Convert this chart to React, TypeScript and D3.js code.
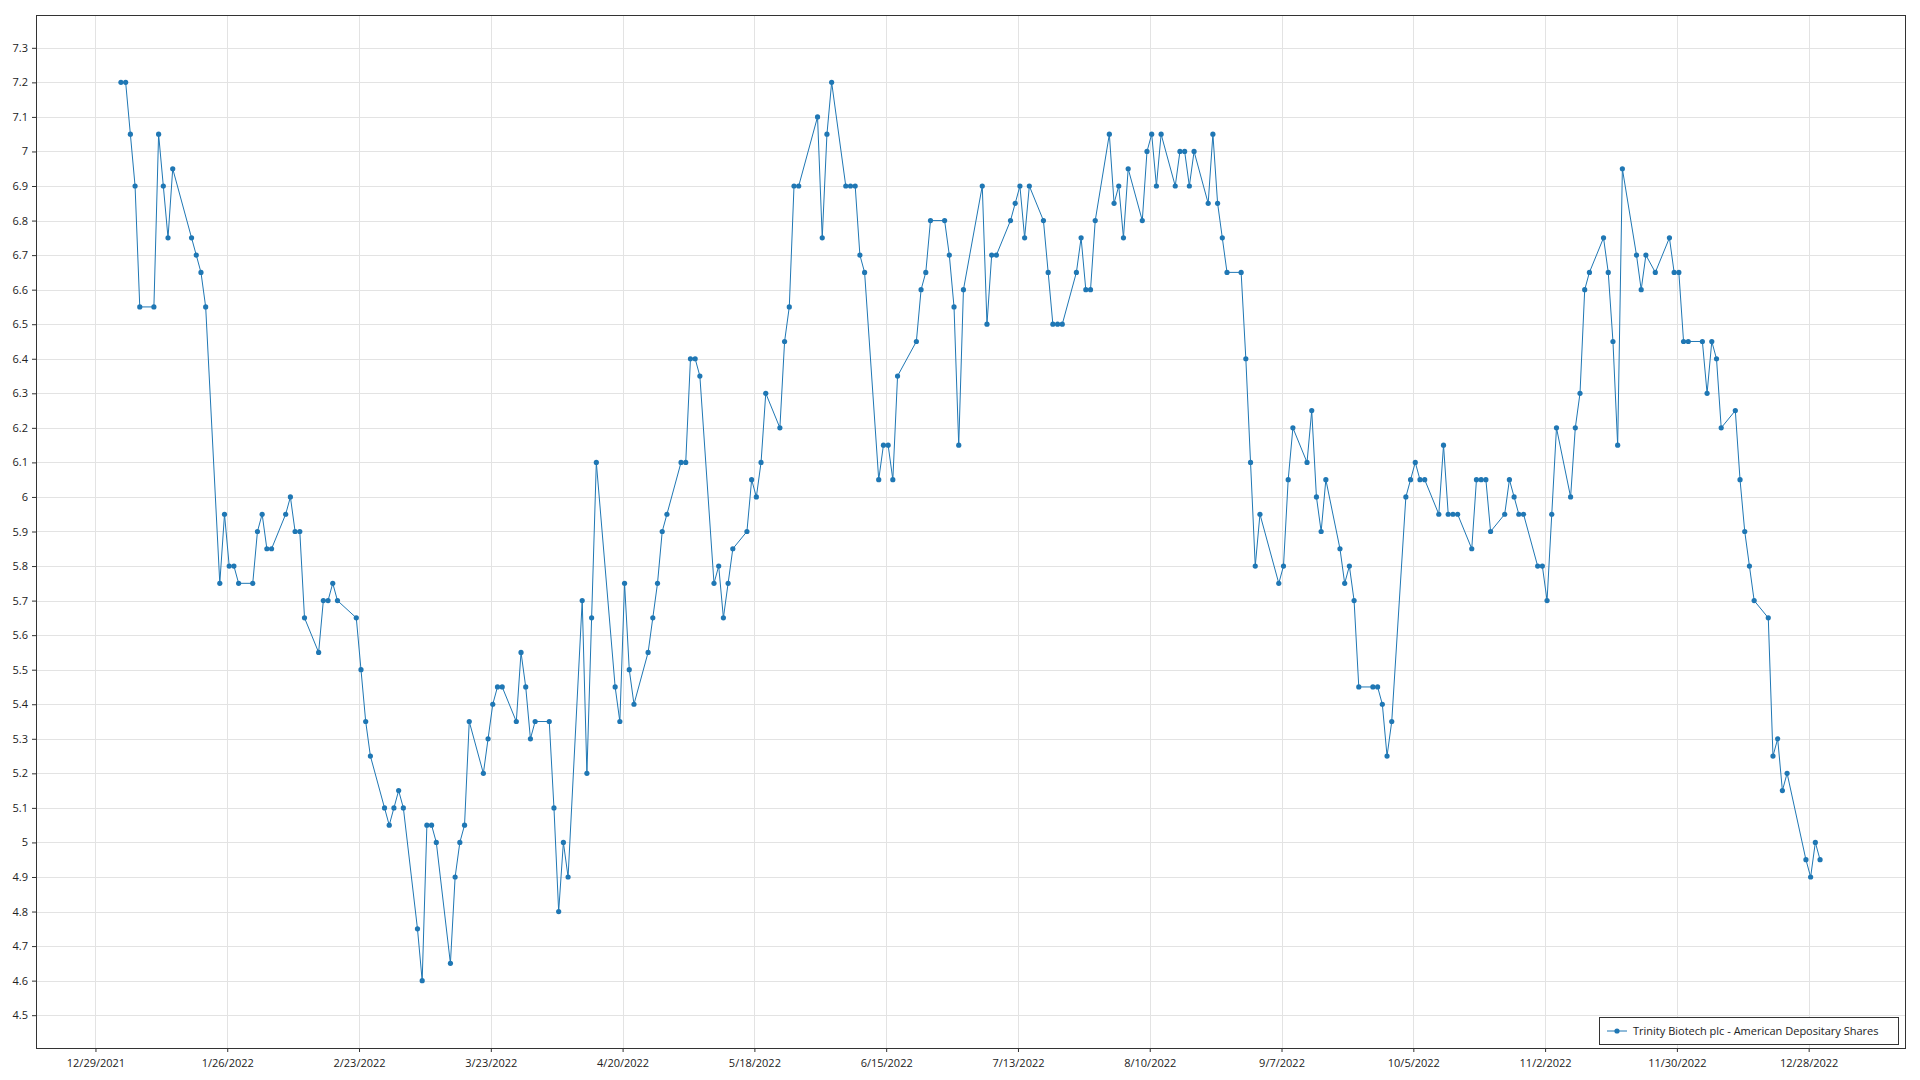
import { useEffect, useRef } from 'react'
import * as d3 from 'd3'

const SERIES_NAME = 'Trinity Biotech plc - American Depositary Shares'

// daily closes, 2022
const DATES = [
  '2022-01-03', '2022-01-04', '2022-01-05', '2022-01-06', '2022-01-07', '2022-01-10', '2022-01-11', '2022-01-12',
  '2022-01-13', '2022-01-14', '2022-01-18', '2022-01-19', '2022-01-20', '2022-01-21', '2022-01-24', '2022-01-25',
  '2022-01-26', '2022-01-27', '2022-01-28', '2022-01-31', '2022-02-01', '2022-02-02', '2022-02-03', '2022-02-04',
  '2022-02-07', '2022-02-08', '2022-02-09', '2022-02-10', '2022-02-11', '2022-02-14', '2022-02-15', '2022-02-16',
  '2022-02-17', '2022-02-18', '2022-02-22', '2022-02-23', '2022-02-24', '2022-02-25', '2022-02-28', '2022-03-01',
  '2022-03-02', '2022-03-03', '2022-03-04', '2022-03-07', '2022-03-08', '2022-03-09', '2022-03-10', '2022-03-11',
  '2022-03-14', '2022-03-15', '2022-03-16', '2022-03-17', '2022-03-18', '2022-03-21', '2022-03-22', '2022-03-23',
  '2022-03-24', '2022-03-25', '2022-03-28', '2022-03-29', '2022-03-30', '2022-03-31', '2022-04-01', '2022-04-04',
  '2022-04-05', '2022-04-06', '2022-04-07', '2022-04-08', '2022-04-11', '2022-04-12', '2022-04-13', '2022-04-14',
  '2022-04-18', '2022-04-19', '2022-04-20', '2022-04-21', '2022-04-22', '2022-04-25', '2022-04-26', '2022-04-27',
  '2022-04-28', '2022-04-29', '2022-05-02', '2022-05-03', '2022-05-04', '2022-05-05', '2022-05-06', '2022-05-09',
  '2022-05-10', '2022-05-11', '2022-05-12', '2022-05-13', '2022-05-16', '2022-05-17', '2022-05-18', '2022-05-19',
  '2022-05-20', '2022-05-23', '2022-05-24', '2022-05-25', '2022-05-26', '2022-05-27', '2022-05-31', '2022-06-01',
  '2022-06-02', '2022-06-03', '2022-06-06', '2022-06-07', '2022-06-08', '2022-06-09', '2022-06-10', '2022-06-13',
  '2022-06-14', '2022-06-15', '2022-06-16', '2022-06-17', '2022-06-21', '2022-06-22', '2022-06-23', '2022-06-24',
  '2022-06-27', '2022-06-28', '2022-06-29', '2022-06-30', '2022-07-01', '2022-07-05', '2022-07-06', '2022-07-07',
  '2022-07-08', '2022-07-11', '2022-07-12', '2022-07-13', '2022-07-14', '2022-07-15', '2022-07-18', '2022-07-19',
  '2022-07-20', '2022-07-21', '2022-07-22', '2022-07-25', '2022-07-26', '2022-07-27', '2022-07-28', '2022-07-29',
  '2022-08-01', '2022-08-02', '2022-08-03', '2022-08-04', '2022-08-05', '2022-08-08', '2022-08-09', '2022-08-10',
  '2022-08-11', '2022-08-12', '2022-08-15', '2022-08-16', '2022-08-17', '2022-08-18', '2022-08-19', '2022-08-22',
  '2022-08-23', '2022-08-24', '2022-08-25', '2022-08-26', '2022-08-29', '2022-08-30', '2022-08-31', '2022-09-01',
  '2022-09-02', '2022-09-06', '2022-09-07', '2022-09-08', '2022-09-09', '2022-09-12', '2022-09-13', '2022-09-14',
  '2022-09-15', '2022-09-16', '2022-09-19', '2022-09-20', '2022-09-21', '2022-09-22', '2022-09-23', '2022-09-26',
  '2022-09-27', '2022-09-28', '2022-09-29', '2022-09-30', '2022-10-03', '2022-10-04', '2022-10-05', '2022-10-06',
  '2022-10-07', '2022-10-10', '2022-10-11', '2022-10-12', '2022-10-13', '2022-10-14', '2022-10-17', '2022-10-18',
  '2022-10-19', '2022-10-20', '2022-10-21', '2022-10-24', '2022-10-25', '2022-10-26', '2022-10-27', '2022-10-28',
  '2022-10-31', '2022-11-01', '2022-11-02', '2022-11-03', '2022-11-04', '2022-11-07', '2022-11-08', '2022-11-09',
  '2022-11-10', '2022-11-11', '2022-11-14', '2022-11-15', '2022-11-16', '2022-11-17', '2022-11-18', '2022-11-21',
  '2022-11-22', '2022-11-23', '2022-11-25', '2022-11-28', '2022-11-29', '2022-11-30', '2022-12-01', '2022-12-02',
  '2022-12-05', '2022-12-06', '2022-12-07', '2022-12-08', '2022-12-09', '2022-12-12', '2022-12-13', '2022-12-14',
  '2022-12-15', '2022-12-16', '2022-12-19', '2022-12-20', '2022-12-21', '2022-12-22', '2022-12-23', '2022-12-27',
  '2022-12-28', '2022-12-29', '2022-12-30',
]

const PRICES = [
  7.2, 7.2, 7.05, 6.9, 6.55, 6.55, 7.05, 6.9,
  6.75, 6.95, 6.75, 6.7, 6.65, 6.55, 5.75, 5.95,
  5.8, 5.8, 5.75, 5.75, 5.9, 5.95, 5.85, 5.85,
  5.95, 6.0, 5.9, 5.9, 5.65, 5.55, 5.7, 5.7,
  5.75, 5.7, 5.65, 5.5, 5.35, 5.25, 5.1, 5.05,
  5.1, 5.15, 5.1, 4.75, 4.6, 5.05, 5.05, 5.0,
  4.65, 4.9, 5.0, 5.05, 5.35, 5.2, 5.3, 5.4,
  5.45, 5.45, 5.35, 5.55, 5.45, 5.3, 5.35, 5.35,
  5.1, 4.8, 5.0, 4.9, 5.7, 5.2, 5.65, 6.1,
  5.45, 5.35, 5.75, 5.5, 5.4, 5.55, 5.65, 5.75,
  5.9, 5.95, 6.1, 6.1, 6.4, 6.4, 6.35, 5.75,
  5.8, 5.65, 5.75, 5.85, 5.9, 6.05, 6.0, 6.1,
  6.3, 6.2, 6.45, 6.55, 6.9, 6.9, 7.1, 6.75,
  7.05, 7.2, 6.9, 6.9, 6.9, 6.7, 6.65, 6.05,
  6.15, 6.15, 6.05, 6.35, 6.45, 6.6, 6.65, 6.8,
  6.8, 6.7, 6.55, 6.15, 6.6, 6.9, 6.5, 6.7,
  6.7, 6.8, 6.85, 6.9, 6.75, 6.9, 6.8, 6.65,
  6.5, 6.5, 6.5, 6.65, 6.75, 6.6, 6.6, 6.8,
  7.05, 6.85, 6.9, 6.75, 6.95, 6.8, 7.0, 7.05,
  6.9, 7.05, 6.9, 7.0, 7.0, 6.9, 7.0, 6.85,
  7.05, 6.85, 6.75, 6.65, 6.65, 6.4, 6.1, 5.8,
  5.95, 5.75, 5.8, 6.05, 6.2, 6.1, 6.25, 6.0,
  5.9, 6.05, 5.85, 5.75, 5.8, 5.7, 5.45, 5.45,
  5.45, 5.4, 5.25, 5.35, 6.0, 6.05, 6.1, 6.05,
  6.05, 5.95, 6.15, 5.95, 5.95, 5.95, 5.85, 6.05,
  6.05, 6.05, 5.9, 5.95, 6.05, 6.0, 5.95, 5.95,
  5.8, 5.8, 5.7, 5.95, 6.2, 6.0, 6.2, 6.3,
  6.6, 6.65, 6.75, 6.65, 6.45, 6.15, 6.95, 6.7,
  6.6, 6.7, 6.65, 6.75, 6.65, 6.65, 6.45, 6.45,
  6.45, 6.3, 6.45, 6.4, 6.2, 6.25, 6.05, 5.9,
  5.8, 5.7, 5.65, 5.25, 5.3, 5.15, 5.2, 4.95,
  4.9, 5.0, 4.95,
]

const X_TICKS = [
  '2021-12-29', '2022-01-26', '2022-02-23', '2022-03-23', '2022-04-20', '2022-05-18', '2022-06-15',
  '2022-07-13', '2022-08-10', '2022-09-07', '2022-10-05', '2022-11-02', '2022-11-30', '2022-12-28',
]
const Y_TICKS = [
  4.5, 4.6, 4.7, 4.8, 4.9, 5, 5.1, 5.2, 5.3, 5.4, 5.5, 5.6, 5.7, 5.8, 5.9,
  6, 6.1, 6.2, 6.3, 6.4, 6.5, 6.6, 6.7, 6.8, 6.9, 7, 7.1, 7.2, 7.3,
]

const W = 1920
const H = 1080
const PLOT = { left: 36, top: 15, right: 1905, bottom: 1048 }
const LINE_COLOR = '#1f77b4'
const GRID_COLOR = '#e3e3e3'
const FRAME_COLOR = '#333333'
const TEXT_COLOR = '#222222'
const FONT = "'Open Sans', 'Noto Sans', sans-serif"

const parseDay = d3.timeParse('%Y-%m-%d')

export default function App() {
  const svgRef = useRef<SVGSVGElement>(null)

  useEffect(() => {
    document.body.style.margin = '0'
    const svg = svgRef.current
    if (!svg) return

    // points sit at the session close, a little right of midnight
    const points = DATES.map((d, i) => ({ date: d3.timeHour.offset(parseDay(d)!, 10), value: PRICES[i] }))
    const ticks = X_TICKS.map((d) => parseDay(d)!)

    const [x0, x1] = d3.extent(points, (d) => d.date) as [Date, Date]
    const xPad = (x1.getTime() - x0.getTime()) * 0.05
    const [y0, y1] = d3.extent(points, (d) => d.value) as [number, number]
    const yPad = (y1 - y0) * 0.075

    const x = d3.scaleTime()
      .domain([new Date(x0.getTime() - xPad), new Date(x1.getTime() + xPad)])
      .range([PLOT.left, PLOT.right])
    const y = d3.scaleLinear().domain([y0 - yPad, y1 + yPad]).range([PLOT.bottom, PLOT.top])

    const sel = d3.select(svg)
    sel.selectAll('*').remove()

    sel.append('rect').attr('width', W).attr('height', H).attr('fill', '#ffffff')

    // grid
    const grid = sel.append('g').attr('shape-rendering', 'crispEdges')
    grid.selectAll('.hgrid')
      .data(Y_TICKS)
      .join('line')
      .attr('x1', PLOT.left).attr('x2', PLOT.right)
      .attr('y1', (d) => Math.round(y(d)) + 0.5).attr('y2', (d) => Math.round(y(d)) + 0.5)
      .attr('stroke', GRID_COLOR)
    grid.selectAll('.vgrid')
      .data(ticks)
      .join('line')
      .attr('x1', (d) => Math.round(x(d)) + 0.5).attr('x2', (d) => Math.round(x(d)) + 0.5)
      .attr('y1', PLOT.top).attr('y2', PLOT.bottom)
      .attr('stroke', GRID_COLOR)

    // axes
    const yAxis = d3.axisLeft(y)
      .tickValues(Y_TICKS)
      .tickFormat((d) => `${+(+d).toFixed(1)}`)
      .tickSize(4)
      .tickPadding(4)
    sel.append('g')
      .attr('transform', `translate(${PLOT.left},0)`)
      .call(yAxis)
      .call((g) => g.select('.domain').remove())
      .call((g) => g.selectAll('.tick line').attr('stroke', FRAME_COLOR))
      .call((g) => g.selectAll('.tick text').attr('fill', TEXT_COLOR).attr('font-size', '11px').attr('font-family', FONT))

    const xAxis = d3.axisBottom(x)
      .tickValues(ticks)
      .tickFormat(d3.timeFormat('%-m/%-d/%Y') as any)
      .tickSize(4)
      .tickPadding(7)
    sel.append('g')
      .attr('transform', `translate(0,${PLOT.bottom})`)
      .call(xAxis)
      .call((g) => g.select('.domain').remove())
      .call((g) => g.selectAll('.tick line').attr('stroke', FRAME_COLOR))
      .call((g) => g.selectAll('.tick text').attr('fill', TEXT_COLOR).attr('font-size', '11px').attr('font-family', FONT))

    // frame
    sel.append('rect')
      .attr('x', PLOT.left + 0.5).attr('y', PLOT.top + 0.5)
      .attr('width', PLOT.right - PLOT.left).attr('height', PLOT.bottom - PLOT.top)
      .attr('fill', 'none')
      .attr('stroke', FRAME_COLOR)
      .attr('shape-rendering', 'crispEdges')

    // series
    const line = d3.line<{ date: Date; value: number }>()
      .x((d) => x(d.date))
      .y((d) => y(d.value))
    sel.append('path')
      .datum(points)
      .attr('d', line)
      .attr('fill', 'none')
      .attr('stroke', LINE_COLOR)
      .attr('stroke-width', 1)
    sel.append('g')
      .selectAll('circle')
      .data(points)
      .join('circle')
      .attr('cx', (d) => x(d.date))
      .attr('cy', (d) => y(d.value))
      .attr('r', 2.6)
      .attr('fill', LINE_COLOR)

    // legend
    const lgW = 299
    const lgH = 27
    const lg = sel.append('g').attr('transform', `translate(${PLOT.right - 7 - lgW},${PLOT.bottom - 4 - lgH})`)
    lg.append('rect')
      .attr('x', 0.5).attr('y', 0.5)
      .attr('width', lgW).attr('height', lgH)
      .attr('fill', '#ffffff')
      .attr('stroke', FRAME_COLOR)
      .attr('shape-rendering', 'crispEdges')
    lg.append('line')
      .attr('x1', 8).attr('x2', 28)
      .attr('y1', lgH / 2 + 0.5).attr('y2', lgH / 2 + 0.5)
      .attr('stroke', LINE_COLOR)
    lg.append('circle').attr('cx', 18).attr('cy', lgH / 2 + 0.5).attr('r', 2.6).attr('fill', LINE_COLOR)
    lg.append('text')
      .attr('x', 34)
      .attr('y', lgH / 2 + 0.5)
      .attr('dy', '0.35em')
      .attr('fill', TEXT_COLOR)
      .attr('font-size', '11px')
      .attr('font-family', FONT)
      .text(SERIES_NAME)
  }, [])

  return <svg ref={svgRef} width={W} height={H} style={{ display: 'block' }} />
}
